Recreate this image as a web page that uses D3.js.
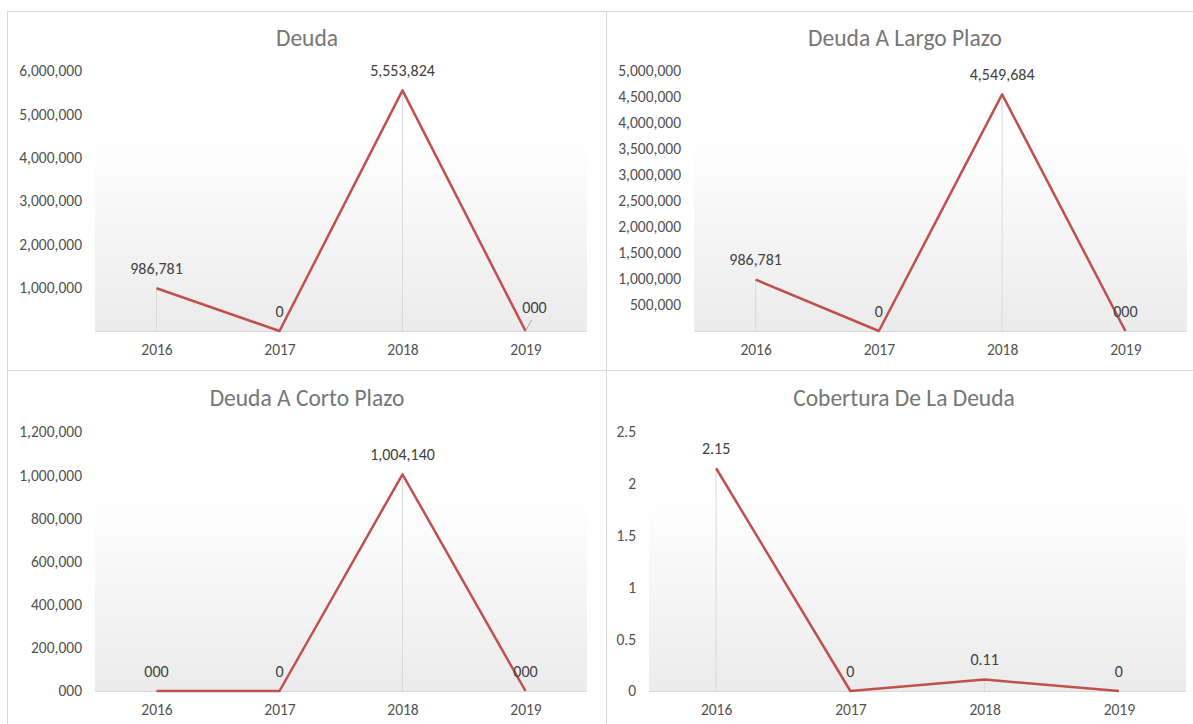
<!DOCTYPE html>
<html>
<head>
<meta charset="utf-8">
<script src="https://cdn.jsdelivr.net/npm/d3@7"></script>
<style>
  body { margin: 0; background: #fff; }
  text { font-family: Carlito, Calibri, Lato, sans-serif; }
</style>
</head>
<body>
<div class="container"></div>
<script>
var width = 1193;
var height = 724;

// data
var years = ["2016", "2017", "2018", "2019"];

var deuda = [986781, 0, 5553824, 0];
var deudaLabels = ["986,781", "0", "5,553,824", "000"];
var deudaTicks = [1000000, 2000000, 3000000, 4000000, 5000000, 6000000];

var largo = [986781, 0, 4549684, 0];
var largoLabels = ["986,781", "0", "4,549,684", "000"];
var largoTicks = [500000, 1000000, 1500000, 2000000, 2500000, 3000000, 3500000, 4000000, 4500000, 5000000];

var corto = [0, 0, 1004140, 0];
var cortoLabels = ["000", "0", "1,004,140", "000"];
var cortoTicks = [0, 200000, 400000, 600000, 800000, 1000000, 1200000];
var cortoTickLabels = ["000", "200,000", "400,000", "600,000", "800,000", "1,000,000", "1,200,000"];

var cobertura = [2.15, 0, 0.11, 0];
var coberturaLabels = ["2.15", "0", "0.11", "0"];
var coberturaTicks = [0, 0.5, 1, 1.5, 2, 2.5];

var colors = {
  line: "#c0504d",
  drop: "#d9d9d9",
  border: "#d9d9d9",
  title: "#767676",
  tick: "#505050",
  label: "#404040"
};

var svg = d3.select(".container").append("svg")
  .attr("width", width)
  .attr("height", height);

// plot area gradient, white on top to light grey at the axis
var grad = svg.append("defs").append("linearGradient")
  .attr("id", "plotGrad")
  .attr("x1", 0).attr("y1", 0).attr("x2", 0).attr("y2", 1);
grad.append("stop").attr("offset", "0%").attr("stop-color", "#ffffff");
grad.append("stop").attr("offset", "25%").attr("stop-color", "#ffffff");
grad.append("stop").attr("offset", "100%").attr("stop-color", "#ebebeb");

// panel frames
svg.append("rect")
  .attr("x", 7.5).attr("y", 11.5)
  .attr("width", 1200).attr("height", 720)
  .style("fill", "none")
  .style("stroke", colors.border);
svg.append("line")
  .attr("x1", 606.5).attr("x2", 606.5).attr("y1", 11).attr("y2", 724)
  .style("stroke", colors.border);
svg.append("line")
  .attr("x1", 7).attr("x2", 1193).attr("y1", 370.5).attr("y2", 370.5)
  .style("stroke", colors.border);

var panels = [
  {title: "Deuda", cx: 307, titleY: 46, left: 95, right: 587, top: 71, bottom: 331,
   max: 6000000, values: deuda, labels: deudaLabels, ticks: deudaTicks, leader: 3},
  {title: "Deuda A Largo Plazo", cx: 905, titleY: 46, left: 694, right: 1187, top: 71, bottom: 331,
   max: 5000000, values: largo, labels: largoLabels, ticks: largoTicks},
  {title: "Deuda A Corto Plazo", cx: 307, titleY: 406, left: 95, right: 587, top: 432, bottom: 691,
   max: 1200000, values: corto, labels: cortoLabels, ticks: cortoTicks, tickLabels: cortoTickLabels},
  {title: "Cobertura De La Deuda", cx: 904, titleY: 406, left: 649, right: 1186, top: 432, bottom: 691,
   max: 2.5, values: cobertura, labels: coberturaLabels, ticks: coberturaTicks}
];

panels.forEach(renderPanel);

function renderPanel(p) {
  var g = svg.append("g");

  var xScale = d3.scalePoint().domain(years).range([p.left, p.right]).padding(0.5);
  var yScale = d3.scaleLinear().domain([0, p.max]).range([p.bottom, p.top]);

  g.append("rect")
    .attr("x", p.left)
    .attr("y", p.top)
    .attr("width", p.right - p.left)
    .attr("height", p.bottom - p.top)
    .style("fill", "url(#plotGrad)");

  g.append("text")
    .attr("x", p.cx)
    .attr("y", p.titleY)
    .style("text-anchor", "middle")
    .style("font-size", "23.5px")
    .style("fill", colors.title)
    .text(p.title);

  // y tick labels only, no axis line
  var fmt = d3.format(",");
  var axisY = d3.axisLeft(yScale)
    .tickValues(p.ticks)
    .tickSize(0)
    .tickPadding(13)
    .tickFormat(function (d, i) { return p.tickLabels ? p.tickLabels[i] : fmt(d); });
  var gy = g.append("g")
    .attr("transform", "translate(" + p.left + ",0)")
    .call(axisY);
  gy.select(".domain").remove();
  gy.selectAll("text")
    .style("font-size", "15.5px")
    .style("font-family", "Carlito, Calibri, Lato, sans-serif")
    .style("fill", colors.tick);

  // x axis: grey baseline and year labels
  var axisX = d3.axisBottom(xScale).tickSize(0).tickPadding(13);
  var gx = g.append("g")
    .attr("transform", "translate(0," + p.bottom + ")")
    .call(axisX);
  gx.select(".domain").remove();
  gx.selectAll("text")
    .style("font-size", "15.5px")
    .style("font-family", "Carlito, Calibri, Lato, sans-serif")
    .style("fill", colors.tick);
  g.append("line")
    .attr("x1", p.left).attr("x2", p.right)
    .attr("y1", p.bottom + 0.5).attr("y2", p.bottom + 0.5)
    .style("stroke", colors.drop);

  // drop lines from each point to the axis
  g.selectAll("line.drop")
    .data(p.values)
    .enter().append("line")
    .attr("class", "drop")
    .attr("x1", function (d, i) { return xScale(years[i]); })
    .attr("x2", function (d, i) { return xScale(years[i]); })
    .attr("y1", function (d) { return yScale(d); })
    .attr("y2", p.bottom)
    .style("stroke", colors.drop);

  var line = d3.line()
    .x(function (d, i) { return xScale(years[i]); })
    .y(function (d) { return yScale(d); });

  g.append("path")
    .datum(p.values)
    .attr("d", line)
    .style("fill", "none")
    .style("stroke", colors.line)
    .style("stroke-width", 2.5)
    .style("stroke-linejoin", "round");

  g.selectAll("text.label")
    .data(p.values)
    .enter().append("text")
    .attr("class", "label")
    .attr("x", function (d, i) { return xScale(years[i]) + (i === p.leader ? 9 : 0); })
    .attr("y", function (d, i) { return yScale(d) - (i === p.leader ? 24 : 20); })
    .attr("dy", "0.35em")
    .style("text-anchor", "middle")
    .style("font-size", "16px")
    .style("fill", colors.label)
    .text(function (d, i) { return p.labels[i]; });

  // small leader line for a label pushed aside
  if (p.leader !== undefined) {
    var lx = xScale(years[p.leader]);
    var ly = yScale(p.values[p.leader]);
    g.append("line")
      .attr("x1", lx).attr("y1", ly)
      .attr("x2", lx + 6).attr("y2", ly - 11)
      .style("stroke", "#a6a6a6");
  }
}
</script>
</body>
</html>
